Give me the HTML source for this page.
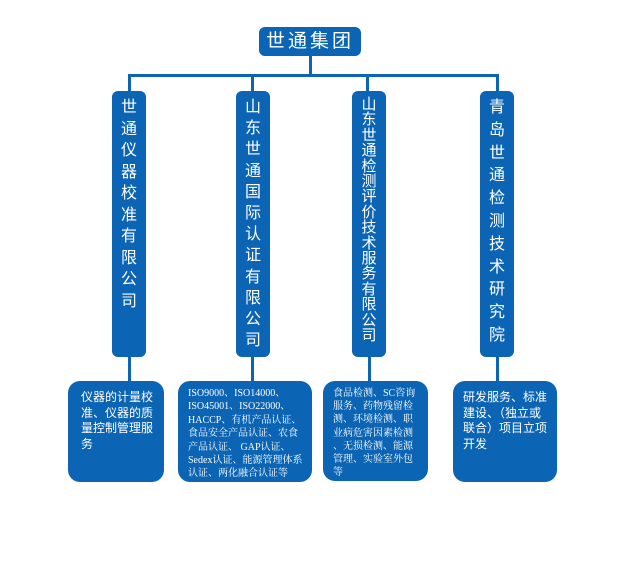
<!DOCTYPE html>
<html><head><meta charset="utf-8"><style>
body{margin:0;width:640px;height:562px;background:#fff;position:relative;overflow:hidden;font-family:"Liberation Sans","Noto Sans CJK SC",sans-serif;}
.b{position:absolute;background:#0b64b4;color:#fff;border-radius:6px;}
.l{position:absolute;background:#0b64b4;}
.v{text-align:center;font-size:16px;}
.t{border-radius:12px;font-size:11px;line-height:14.5px;padding:8px 8px;box-sizing:border-box;}
.n{white-space:nowrap;}
</style></head><body>
<div class="b" style="left:259px;top:27px;width:102px;height:29px;font-size:19px;line-height:29px;text-align:center;letter-spacing:3px;">世通集团</div>
<div class="l" style="left:309px;top:56px;width:3px;height:20px"></div>
<div class="l" style="left:128px;top:74px;width:371px;height:3px"></div>
<div class="l" style="left:128px;top:74px;width:3px;height:18px"></div>
<div class="l" style="left:251px;top:74px;width:3px;height:18px"></div>
<div class="l" style="left:366px;top:74px;width:3px;height:18px"></div>
<div class="l" style="left:496px;top:74px;width:3px;height:18px"></div>

<div class="b v" style="left:112px;top:91px;width:34px;height:266px;padding-top:6px;box-sizing:border-box;line-height:21.5px">世<br>通<br>仪<br>器<br>校<br>准<br>有<br>限<br>公<br>司</div>
<div class="b v" style="left:236px;top:91px;width:34px;height:266px;padding-top:6px;box-sizing:border-box;line-height:21.2px">山<br>东<br>世<br>通<br>国<br>际<br>认<br>证<br>有<br>限<br>公<br>司</div>
<div class="b v" style="left:352px;top:91px;width:34px;height:266px;padding-top:6px;box-sizing:border-box;line-height:15.4px;font-size:15px">山<br>东<br>世<br>通<br>检<br>测<br>评<br>价<br>技<br>术<br>服<br>务<br>有<br>限<br>公<br>司</div>
<div class="b v" style="left:480px;top:91px;width:34px;height:266px;padding-top:6px;box-sizing:border-box;line-height:22.8px">青<br>岛<br>世<br>通<br>检<br>测<br>技<br>术<br>研<br>究<br>院</div>

<div class="l" style="left:128px;top:357px;width:3px;height:25px"></div>
<div class="l" style="left:251px;top:357px;width:3px;height:25px"></div>
<div class="l" style="left:368px;top:357px;width:3px;height:25px"></div>
<div class="l" style="left:496px;top:357px;width:3px;height:25px"></div>

<div class="b t" style="left:68px;top:381px;width:96px;height:101px;font-size:12px;line-height:15.5px;padding:9px 8px 0 13px">仪器的计量校准、仪器的质量控制管理服务</div>
<div class="b t n" style="left:178px;top:381px;width:134px;height:101px;font-family:'Liberation Serif','Noto Serif CJK SC',serif;font-size:10px;line-height:13.4px;padding:6px 4px 0 10px">ISO9000、ISO14000、<br>ISO45001、ISO22000、<br>HACCP、有机产品认证、<br>食品安全产品认证、农食<br>产品认证、 GAP认证、<br>Sedex认证、能源管理体系<br>认证、两化融合认证等</div>
<div class="b t n" style="left:323px;top:381px;width:105px;height:100px;font-family:'Liberation Serif','Noto Serif CJK SC',serif;font-size:10px;line-height:13.2px;padding:6px 4px 0 10px">食品检测、SC咨询<br>服务、药物残留检<br>测、环境检测、职<br>业病危害因素检测<br>、无损检测、能源<br>管理、实验室外包<br>等</div>
<div class="b t" style="left:453px;top:381px;width:104px;height:101px;font-size:12px;line-height:15.5px;padding:9px 6px 0 10px">研发服务、标准建设、（独立或联合）项目立项开发</div>
</body></html>
